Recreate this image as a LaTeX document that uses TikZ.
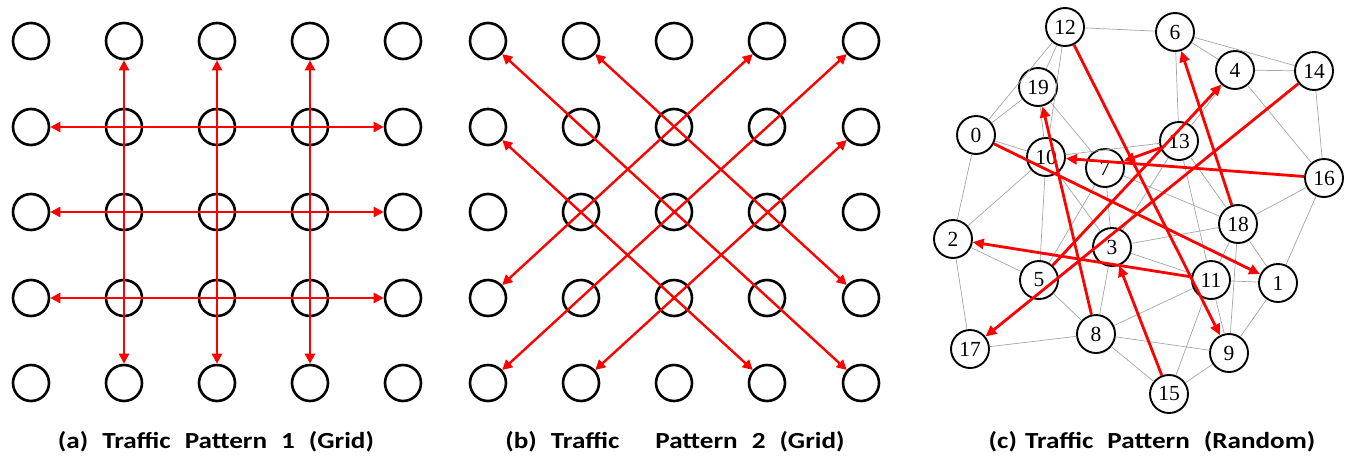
\documentclass[tikz,border=0pt]{standalone}
\usepackage{fontspec}
\setmainfont{Liberation Serif}
\newfontfamily\capfont[FakeStretch=1.18]{Carlito}
\usetikzlibrary{arrows.meta}
\newcommand{\wg}{\hspace{14pt}}
\begin{document}
\begin{tikzpicture}[x=1pt,y=-1pt,
 gnode/.style={circle,draw=black,line width=2.6pt,minimum size=36pt,inner sep=0pt},
 rnode/.style={circle,draw=black,line width=1.9pt,minimum size=38pt,inner sep=0pt,font=\fontsize{21.5}{21.5}\selectfont},
 flow/.style={draw=red,line width=2.4pt,{Triangle[length=10pt,width=10pt]}-{Triangle[length=10pt,width=10pt]}},
 rflow/.style={draw=red,line width=2.8pt,-{Triangle[length=11pt,width=10pt]}},
 link/.style={draw=gray!70,line width=0.7pt},
 captext/.style={font=\capfont\bfseries\fontsize{23}{23}\selectfont,inner sep=0pt}
]
\useasboundingbox (0,0) rectangle (1355,472);
% ---------- (a) ----------
\foreach \c/\x in {0/31,1/124,2/217,3/310,4/403}{
  \foreach \r/\y in {0/41,1/127,2/212,3/298,4/383}{
    \node[gnode] (a-\c-\r) at (\x,\y) {};
  }
}
\foreach \k in {1,2,3}{
  \draw[flow] (a-\k-0) -- (a-\k-4);
  \draw[flow] (a-0-\k) -- (a-4-\k);
}
% ---------- (b) ----------
\foreach \c/\x in {0/488,1/581,2/674,3/767,4/861}{
  \foreach \r/\y in {0/41,1/127,2/212,3/298,4/383}{
    \node[gnode] (b-\c-\r) at (\x,\y) {};
  }
}
\draw[flow] (b-0-0) -- (b-4-4);
\draw[flow] (b-1-0) -- (b-4-3);
\draw[flow] (b-0-1) -- (b-3-4);
\draw[flow] (b-4-0) -- (b-0-4);
\draw[flow] (b-3-0) -- (b-0-3);
\draw[flow] (b-4-1) -- (b-1-4);
% ---------- (c) ----------
\foreach \n/\x/\y in {12/1065/27, 6/1175/32, 4/1235/70, 14/1314/71, 19/1038/87,
  0/976/135, 13/1179/141, 10/1046/157, 7/1105/168, 16/1324/178, 18/1238/224,
  2/953/239, 3/1112/247, 5/1039/280, 11/1211/280, 1/1278/283, 8/1096/334,
  17/970/349, 9/1229/353, 15/1169/394}{
  \node[rnode] (c\n) at (\x,\y) {\n};
}
\foreach \u/\v in {12/6, 12/19, 12/10, 12/0, 19/0, 19/7, 19/10, 0/10, 10/13,
  0/2, 10/2, 10/5, 10/3, 7/5, 7/3, 7/18, 13/6, 13/4, 13/18, 13/11, 13/3,
  6/4, 6/14, 4/14, 4/16, 14/16, 16/18, 16/1, 18/3, 18/11, 18/1, 18/9,
  3/11, 3/8, 11/1, 11/8, 11/15, 11/9, 1/9, 9/15, 8/9, 8/15, 8/17, 8/5,
  5/2, 2/17}{
  \draw[link] (c\u) -- (c\v);
}
\foreach \u/\v in {12/9, 18/6, 5/4, 14/17, 16/10, 13/7, 0/1, 8/19, 11/2, 15/3}{
  \draw[rflow] (c\u) -- (c\v);
}
% ---------- captions ----------
\node[captext] (capa) at (216,442) {(a)\wg Traffic\wg Pattern\wg 1\wg (Grid)};
\node[captext] (capb) at (675,442) {(b)\wg Traffic\hspace{36pt}Pattern\wg 2\wg (Grid)};
\node[captext] (capc) at (1152,442) {(c)\hspace{8pt}Traffic\wg Pattern\wg (Random)};
\end{tikzpicture}
\end{document}
